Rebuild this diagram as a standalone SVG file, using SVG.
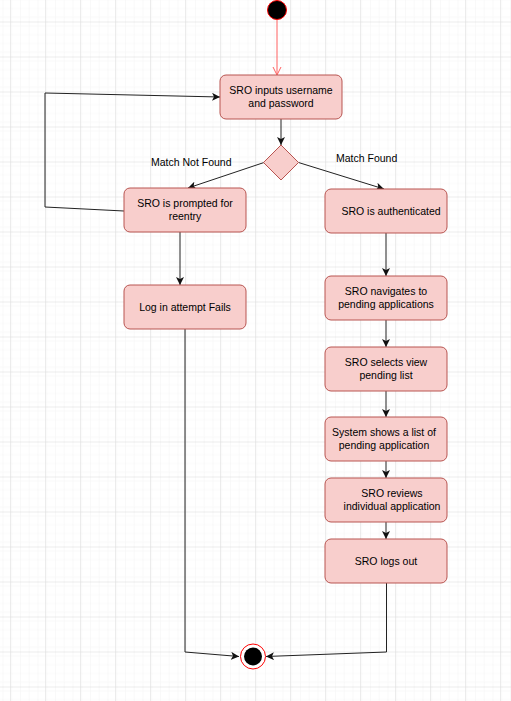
<svg xmlns="http://www.w3.org/2000/svg" width="511" height="701" viewBox="0 0 511 701">
  <style>
    .box { fill: #f8cecc; stroke: #b85450; stroke-width: 1; }
    .lbl { font-family: "Liberation Sans", Arial, sans-serif; font-size: 10.5px; fill: #000; text-anchor: middle; }
    .edge-lbl { font-family: "Liberation Sans", Arial, sans-serif; font-size: 10.5px; fill: #000; }
    .edge { fill: none; stroke: #222; stroke-width: 1; }
  </style>
  <defs>
    <pattern id="minor" x="10" y="21.5" width="8.75" height="8.75" patternUnits="userSpaceOnUse">
      <path d="M0,0 H8.75 M0,0 V8.75" fill="none" stroke="#f4f4f4" stroke-width="1"/>
    </pattern>
    <pattern id="major" x="10" y="21.5" width="35" height="35" patternUnits="userSpaceOnUse">
      <rect width="35" height="35" fill="url(#minor)"/>
      <path d="M0,0 H35 M0,0 V35" fill="none" stroke="#d9d9d9" stroke-width="1"/>
    </pattern>
    <marker id="arrow" viewBox="0 0 8 8" refX="8" refY="4" markerWidth="8" markerHeight="8" markerUnits="userSpaceOnUse" orient="auto">
      <path d="M0,0 L8,4 L0,8 L2,4 z" fill="#111"/>
    </marker>
    <marker id="open" viewBox="0 0 10 10" refX="9" refY="5" markerWidth="10" markerHeight="10" markerUnits="userSpaceOnUse" orient="auto">
      <path d="M1,1 L9,5 L1,9" fill="none" stroke="#ff6060" stroke-width="1"/>
    </marker>
  </defs>

  <!-- background grid -->
  <rect width="511" height="701" fill="#ffffff"/>
  <rect width="511" height="701" fill="url(#major)"/>

  <!-- connectors -->
  <g id="connectors">
    <line x1="277" y1="20" x2="277" y2="75" stroke="#ff6060" stroke-width="1" marker-end="url(#open)"/>
    <line class="edge" x1="281" y1="119" x2="281" y2="145" marker-end="url(#arrow)"/>
    <path class="edge" d="M264,162.5 L188,188" marker-end="url(#arrow)"/>
    <path class="edge" d="M298.5,162.5 L384,189" marker-end="url(#arrow)"/>
    <path class="edge" d="M124,211 L45,207 L45,93 L220,97" marker-end="url(#arrow)"/>
    <line class="edge" x1="180" y1="232" x2="180" y2="285" marker-end="url(#arrow)"/>
    <line class="edge" x1="386" y1="233" x2="386" y2="276" marker-end="url(#arrow)"/>
    <line class="edge" x1="386" y1="320" x2="386" y2="347" marker-end="url(#arrow)"/>
    <line class="edge" x1="386" y1="391" x2="386" y2="417" marker-end="url(#arrow)"/>
    <line class="edge" x1="386" y1="461" x2="386" y2="478" marker-end="url(#arrow)"/>
    <line class="edge" x1="386" y1="522" x2="386" y2="539" marker-end="url(#arrow)"/>
    <path class="edge" d="M185,329 L185,652 L239,656.5" marker-end="url(#arrow)"/>
    <path class="edge" d="M386.5,583 L386.5,652 L266,656.5" marker-end="url(#arrow)"/>
    <text class="edge-lbl" x="151" y="166">Match Not Found</text>
    <text class="edge-lbl" x="336" y="162">Match Found</text>
  </g>

  <!-- start -->
  <g id="start">
    <circle cx="277" cy="10" r="9.5" fill="#000" stroke="#ff0000" stroke-width="1"/>
  </g>

  <g id="input">
    <rect class="box" x="220" y="75" width="122" height="44" rx="6"/>
    <text class="lbl" x="281" y="94">SRO inputs username</text>
    <text class="lbl" x="281" y="107">and password</text>
  </g>

  <g id="decision">
    <polygon class="box" points="281,145 298.5,162.5 281,180 263.5,162.5"/>
  </g>

  <g id="prompted">
    <rect class="box" x="124" y="188" width="122" height="44" rx="6"/>
    <text class="lbl" x="185" y="207">SRO is prompted for</text>
    <text class="lbl" x="185" y="220">reentry</text>
  </g>

  <g id="fails">
    <rect class="box" x="124" y="285" width="122" height="44" rx="6"/>
    <text class="lbl" x="185" y="311">Log in attempt Fails</text>
  </g>

  <g id="authenticated">
    <rect class="box" x="325" y="189" width="122" height="44" rx="6"/>
    <text class="lbl" x="391" y="215">SRO is authenticated</text>
  </g>

  <g id="navigates">
    <rect class="box" x="325" y="276" width="122" height="44" rx="6"/>
    <text class="lbl" x="386" y="295">SRO navigates to</text>
    <text class="lbl" x="386" y="308">pending applications</text>
  </g>

  <g id="selects">
    <rect class="box" x="325" y="347" width="122" height="44" rx="6"/>
    <text class="lbl" x="386" y="366">SRO selects view</text>
    <text class="lbl" x="386" y="379">pending list</text>
  </g>

  <g id="shows">
    <rect class="box" x="325" y="417" width="122" height="44" rx="6"/>
    <text class="lbl" x="384" y="436">System shows a list of</text>
    <text class="lbl" x="384" y="449">pending application</text>
  </g>

  <g id="reviews">
    <rect class="box" x="325" y="478" width="122" height="44" rx="6"/>
    <text class="lbl" x="392" y="497">SRO reviews</text>
    <text class="lbl" x="392" y="510">individual application</text>
  </g>

  <g id="logout">
    <rect class="box" x="325" y="539" width="122" height="44" rx="6"/>
    <text class="lbl" x="386" y="565">SRO logs out</text>
  </g>

  <!-- end -->
  <g id="end">
    <circle cx="253" cy="656.5" r="12.5" fill="#fff" stroke="#ff0000" stroke-width="1"/>
    <circle cx="253" cy="656.5" r="9" fill="#000"/>
  </g>
</svg>
